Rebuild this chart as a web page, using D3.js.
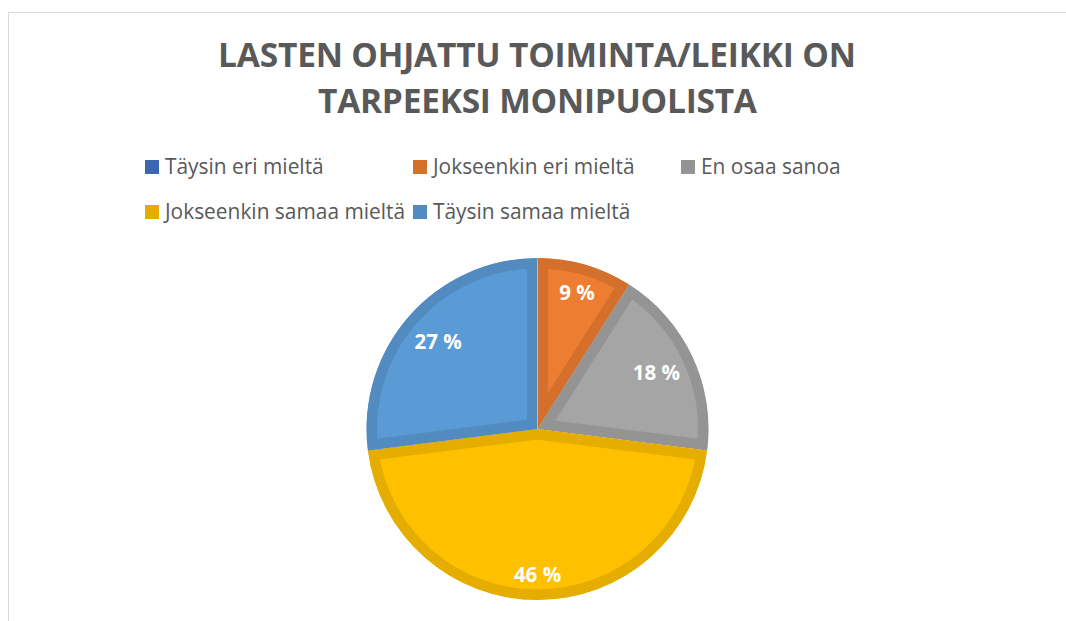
<!DOCTYPE html>
<html>
<head>
<meta charset="utf-8">
<script src="https://cdn.jsdelivr.net/npm/d3@7"></script>
<style>
  html, body { margin: 0; padding: 0; background: #fff; }
  svg { display: block; }
</style>
</head>
<body>
<svg id="chart" width="1066" height="621"></svg>
<script>
// ---- data ----
const categories = ["Täysin eri mieltä", "Jokseenkin eri mieltä", "En osaa sanoa", "Jokseenkin samaa mieltä", "Täysin samaa mieltä"];
const values = [0, 9, 18, 46, 27];
const colors = ["#4472C4", "#ED7D31", "#A5A5A5", "#FFC000", "#5B9BD5"];
const titleLines = ["LASTEN OHJATTU TOIMINTA/LEIKKI ON", "TARPEEKSI MONIPUOLISTA"];

// ---- layout ----
const W = 1066, H = 621;
const svg = d3.select("#chart");
const textColor = "#595959";
const font = "'Open Sans', 'Noto Sans', sans-serif";

// frame
svg.append("rect").attr("x", 8.5).attr("y", 12.5).attr("width", W + 10).attr("height", H + 10)
  .attr("fill", "#fff").attr("stroke", "#D9D9D9").attr("stroke-width", 1);

// title
const titleTargets = [{ cx: 537, base: 67, w: 638 }, { cx: 537.5, base: 113, w: 439 }];
titleLines.forEach((line, i) => {
  const t = svg.append("text")
    .attr("x", titleTargets[i].cx).attr("y", titleTargets[i].base)
    .attr("text-anchor", "middle")
    .attr("font-family", font).attr("font-weight", 700).attr("font-size", 33.5)
    .attr("fill", textColor)
    .text(line);
  const len = t.node().getComputedTextLength();
  const ls = (titleTargets[i].w - len) / (line.length - 1);
  t.attr("letter-spacing", ls.toFixed(2));
  t.attr("x", titleTargets[i].cx + ls / 2);
});

// legend
const borderColor = c => d3.color(c).darker(0.3).formatHex();
const legendCols = 3, colX0 = 145, colStep = 268, rowY0 = 167, rowStep = 45, mk = 14;
const legend = svg.append("g");
categories.forEach((c, i) => {
  const col = i % legendCols, row = Math.floor(i / legendCols);
  const x = colX0 + col * colStep, y = rowY0 + row * rowStep;
  legend.append("rect").attr("x", x).attr("y", y - mk / 2).attr("width", mk).attr("height", mk)
    .attr("fill", borderColor(colors[i]));
  legend.append("text").attr("x", x + 20).attr("y", y + 6.5)
    .attr("font-family", font).attr("font-size", 20.9).attr("fill", textColor)
    .text(c);
});

// pie
const cx = 537.5, cy = 429, R = 171, bw = 10.5;
const pie = d3.pie().sort(null).value(d => d.v);
const data = pie(values.map((v, i) => ({ v, i })));
const arc = d3.arc().innerRadius(0).outerRadius(R);
const g = svg.append("g").attr("transform", `translate(${cx},${cy})`);
const defs = svg.append("defs");

data.filter(d => d.data.v > 0).forEach(d => {
  const id = "clip" + d.data.i;
  defs.append("clipPath").attr("id", id).append("path").attr("d", arc(d));
  g.append("path").attr("d", arc(d))
    .attr("fill", colors[d.data.i])
    .attr("stroke", borderColor(colors[d.data.i]))
    .attr("stroke-width", bw * 2)
    .attr("stroke-linejoin", "miter")
    .attr("clip-path", `url(#${id})`);
});

// labels, inside end
const Rlim = 157;
data.filter(d => d.data.v > 0).forEach(d => {
  const t = g.append("text")
    .attr("font-family", font).attr("font-weight", 700).attr("font-size", 20.5)
    .attr("fill", "#fff").attr("text-anchor", "middle")
    .text(d.data.v + " %");
  const bb = t.node().getBBox();
  const hw = bb.width / 2, hh = 10;
  const a = (d.startAngle + d.endAngle) / 2;
  const ux = Math.sin(a), uy = -Math.cos(a);
  let lo = 0, hi = R;
  for (let k = 0; k < 40; k++) {
    const r = (lo + hi) / 2;
    const px = ux * r, py = uy * r;
    let m = 0;
    [[-1, -1], [1, -1], [-1, 1], [1, 1]].forEach(([sx, sy]) => {
      m = Math.max(m, Math.hypot(px + sx * hw, py + sy * hh));
    });
    if (m > Rlim) hi = r; else lo = r;
  }
  t.attr("x", ux * lo).attr("y", uy * lo).attr("dy", "0.36em");
});
</script>
</body>
</html>
